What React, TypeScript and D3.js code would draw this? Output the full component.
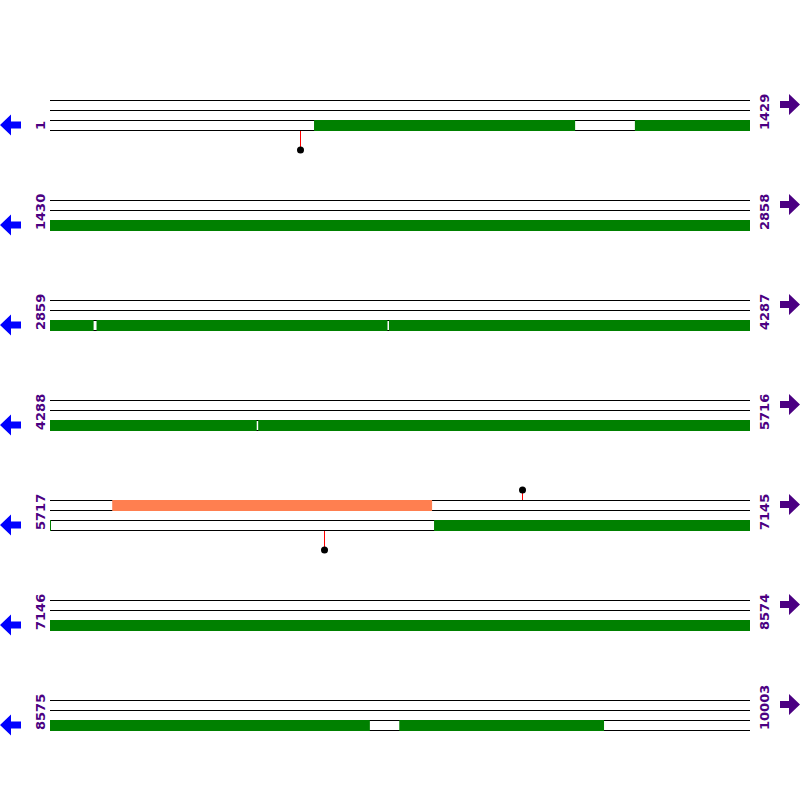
import React, { useEffect, useRef } from 'react';
import * as d3 from 'd3';

const SEQ_LENGTH = 10003;
const ROW_SIZE = 1429;
const ROW_COUNT = 7;

// features on the bottom track: [start, end]
const greenFeatures: [number, number][] = [
  [539, 1072],
  [1194, 2947],
  [2953, 3547],
  [3550, 4709],
  [4712, 5717],
  [6500, 9227],
  [9287, 9705],
];

// features on the top track
const orangeFeatures: [number, number][] = [[5843, 6496]];

// site markers: position and side (above top track / below bottom track)
const sitePositions = [510, 6680, 6275];
const siteSides = ['below', 'above', 'below'];

const PURPLE = '#4b0082';

const App: React.FC = () => {
  const svgRef = useRef<SVGSVGElement>(null);

  useEffect(() => {
    document.body.style.margin = '0';
    const svg = d3.select(svgRef.current);
    svg.selectAll('*').remove();

    const left = 50;
    const right = 750;
    const rowY = d3.scaleLinear().domain([0, 1]).range([100, 200]);

    for (let r = 0; r < ROW_COUNT; r++) {
      const rowStart = r * ROW_SIZE + 1;
      const rowEnd = Math.min((r + 1) * ROW_SIZE, SEQ_LENGTH);
      const base = rowY(r);
      const x = d3.scaleLinear().domain([rowStart - 1, rowStart - 1 + ROW_SIZE]).range([left, right]);
      const g = svg.append('g');

      // track lines
      [0, 10, 20, 30].forEach(dy => {
        g.append('line')
          .attr('x1', left).attr('x2', right)
          .attr('y1', base + dy + 0.5).attr('y2', base + dy + 0.5)
          .attr('stroke', 'black').attr('stroke-width', 1);
      });

      const clip = (f: [number, number]) => {
        const s = Math.max(f[0], rowStart - 1);
        const e = Math.min(f[1], rowStart - 1 + ROW_SIZE);
        return e > s ? [s, e] : null;
      };

      greenFeatures.forEach(f => {
        const c = clip(f);
        if (!c) return;
        g.append('rect')
          .attr('x', x(c[0])).attr('width', Math.max(1, x(c[1]) - x(c[0])))
          .attr('y', base + 20).attr('height', 11)
          .attr('fill', 'green');
      });

      orangeFeatures.forEach(f => {
        const c = clip(f);
        if (!c) return;
        g.append('rect')
          .attr('x', x(c[0])).attr('width', x(c[1]) - x(c[0]))
          .attr('y', base).attr('height', 11)
          .attr('fill', '#ff7f50');
      });

      sitePositions.forEach((p, i) => {
        if (p < rowStart || p > rowEnd) return;
        const px = Math.round(x(p)) + 0.5;
        const above = siteSides[i] === 'above';
        const y0 = above ? base : base + 31;
        const y1 = above ? base - 10 : base + 50;
        g.append('line')
          .attr('x1', px).attr('x2', px).attr('y1', y0).attr('y2', y1)
          .attr('stroke', 'red').attr('stroke-width', 1);
        g.append('circle')
          .attr('cx', px).attr('cy', y1).attr('r', 3.5)
          .attr('fill', 'black');
      });

      // labels
      g.append('text')
        .attr('transform', `translate(44.5,${base + 30}) rotate(-90)`)
        .attr('font-family', 'DejaVu Sans')
        .attr('font-weight', 'bold')
        .attr('font-size', 13)
        .attr('fill', PURPLE)
        .text(rowStart);
      g.append('text')
        .attr('transform', `translate(769,${base + 30}) rotate(-90)`)
        .attr('font-family', 'DejaVu Sans')
        .attr('font-weight', 'bold')
        .attr('font-size', 13)
        .attr('fill', PURPLE)
        .text(rowEnd);

      // arrows
      const ly = base + 25;
      g.append('path')
        .attr('d', `M0,${ly} L11,${ly - 10.5} L11,${ly - 3.5} L21,${ly - 3.5} L21,${ly + 3.5} L11,${ly + 3.5} L11,${ly + 10.5} Z`)
        .attr('fill', 'blue');
      const ry = base + 4.5;
      g.append('path')
        .attr('d', `M800,${ry} L789,${ry - 10.5} L789,${ry - 3.5} L780,${ry - 3.5} L780,${ry + 3.5} L789,${ry + 3.5} L789,${ry + 10.5} Z`)
        .attr('fill', PURPLE);
    }
  }, []);

  return <svg ref={svgRef} width={800} height={800} style={{ display: 'block', background: 'white' }} />;
};

export default App;
